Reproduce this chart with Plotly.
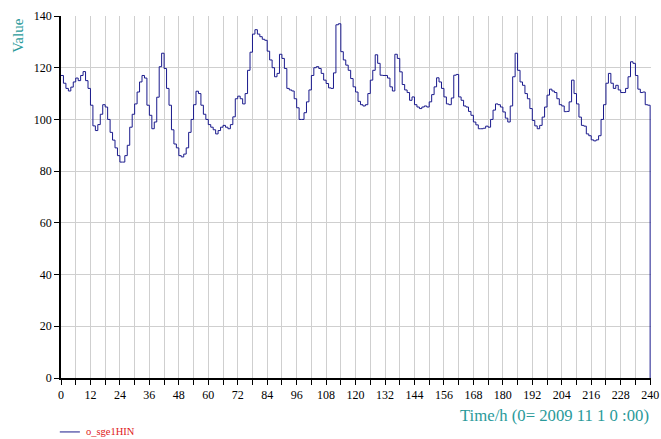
import plotly.graph_objects as go

# Hourly values of o_sge1HIN, hour 0 .. 239, series ends at hour 240
hours = list(range(0, 241))
values = [
    117, 114, 112, 111, 112.5, 114.5, 116, 115, 117, 118.5,
    115, 112, 105.5, 97.5, 95.7, 98, 102, 105.7, 104.8, 100,
    95, 92, 89, 86, 83.5, 83.5, 86, 90, 97, 102,
    106, 110.6, 114.5, 117, 116, 105.5, 101.6, 96.4, 99, 108.6,
    120.4, 125.6, 119.7, 112, 105.5, 96, 90.5, 89, 86, 85.5,
    86.6, 89, 95, 100, 105.7, 110.9, 110, 105.5, 102, 100,
    98, 97, 96, 94.4, 95.7, 97, 97.7, 97, 96.4, 98,
    101, 108, 109, 108, 106, 110, 119, 126, 133, 134.7,
    133, 132, 131, 130.6, 126.4, 123, 120, 116.5, 117.8, 125.2,
    123.6, 119.7, 112, 111.4, 111, 108, 104.5, 100, 100, 102.6,
    106.8, 111.4, 117, 120, 120.4, 119.7, 117.8, 115.2, 113.9, 112.2,
    112, 118, 136.6, 137, 126.2, 123, 121, 119, 115.8, 112.6,
    110.6, 107, 105.7, 105.2, 105.7, 110, 115.2, 119, 125, 121.7,
    117.1, 117, 117, 116, 112.6, 111, 125.2, 123.6, 118.4, 113.5,
    111.4, 110.4, 107.4, 108.7, 105.7, 104.8, 104.2, 104.8, 105.2, 104.8,
    106.8, 109.6, 112.6, 116.1, 114.5, 112, 108.7, 106, 105.7, 108.3,
    117.1, 117.4, 108.7, 107.4, 105.2, 104.8, 103.1, 101.6, 99, 97.9,
    96.4, 96.4, 96.6, 97.4, 97, 100, 103.6, 106, 105.7, 104.8,
    102.9, 100.5, 99, 105.2, 116.5, 125.6, 119, 114.5, 113.2, 110,
    108, 104.2, 99.6, 97.5, 96.4, 97.7, 100.9, 104.8, 109.4, 111.7,
    111, 110.4, 108, 105.7, 105.2, 103, 103.1, 106.8, 115.2, 110,
    106, 100.9, 97.7, 97.4, 94.4, 93.7, 92.1, 91.7, 92.1, 93.7,
    100, 105.7, 114, 117.8, 114, 112, 113.2, 111.4, 110.4, 110.4,
    112, 116.5, 122.3, 121.7, 117, 111.7, 110.4, 110.6, 105.7, 105.5,
    0,
]

x_ticks = list(range(0, 241, 12))
y_ticks = list(range(0, 141, 20))

SERIES_NAME = "o_sge1HIN"
LINE_COLOR = "#1a1a8c"
TEAL = "#2a9a9a"
GRID = "#cfcfcf"
FONT = "Liberation Serif, Times New Roman, serif"

fig = go.Figure()
fig.add_trace(go.Scatter(
    x=hours, y=values, mode="lines", name=SERIES_NAME, showlegend=False,
    line=dict(color=LINE_COLOR, width=1, shape="hv"),
))

fig.update_layout(
    width=661, height=439,
    margin=dict(l=61, r=10, t=16, b=61, autoexpand=False),
    paper_bgcolor="white", plot_bgcolor="white",
    font=dict(family=FONT, size=12, color="black"),
)

fig.update_xaxes(
    range=[0, 240.35], tickvals=x_ticks, ticktext=[str(t) for t in x_ticks],
    showline=True, linecolor="black", linewidth=1.5,
    ticks="outside", ticklen=5, tickcolor="black", tickwidth=1,
    showgrid=True, gridcolor=GRID, gridwidth=1,
    minor=dict(dtick=6, tick0=0, ticks="outside", ticklen=5, tickcolor="black",
               showgrid=True, gridcolor=GRID, gridwidth=1),
    zeroline=False, automargin=False,
    tickfont=dict(family=FONT, size=12, color="black"),
)
fig.update_yaxes(
    range=[0, 140], tickvals=y_ticks,
    showline=True, linecolor="black", linewidth=1.5,
    ticks="outside", ticklen=5, tickcolor="black", tickwidth=1,
    showgrid=True, gridcolor=GRID, gridwidth=1,
    zeroline=False, automargin=False,
    tickfont=dict(family=FONT, size=12, color="black"),
)

# Axis titles
fig.add_annotation(
    text="Value", xref="paper", yref="paper", x=-0.073, y=0.945,
    xanchor="center", yanchor="middle", textangle=-90, showarrow=False,
    font=dict(family=FONT, size=15, color=TEAL),
)
fig.add_annotation(
    text="Time/h (0= 2009 11 1 0 :00)", xref="paper", yref="paper",
    x=1.0, y=-0.103, xanchor="right", yanchor="middle", showarrow=False,
    font=dict(family=FONT, size=16.7, color=TEAL),
)

# Legend entry below the plot: line sample and series name
fig.add_shape(
    type="line", xref="paper", yref="paper",
    x0=-0.002, x1=0.032, y0=-0.149, y1=-0.149,
    line=dict(color=LINE_COLOR, width=1),
)
fig.add_annotation(
    text=SERIES_NAME, xref="paper", yref="paper", x=0.039, y=-0.149,
    xanchor="left", yanchor="middle", showarrow=False,
    font=dict(family=FONT, size=10.5, color="#e02020"),
)

fig.write_html("out.html")
